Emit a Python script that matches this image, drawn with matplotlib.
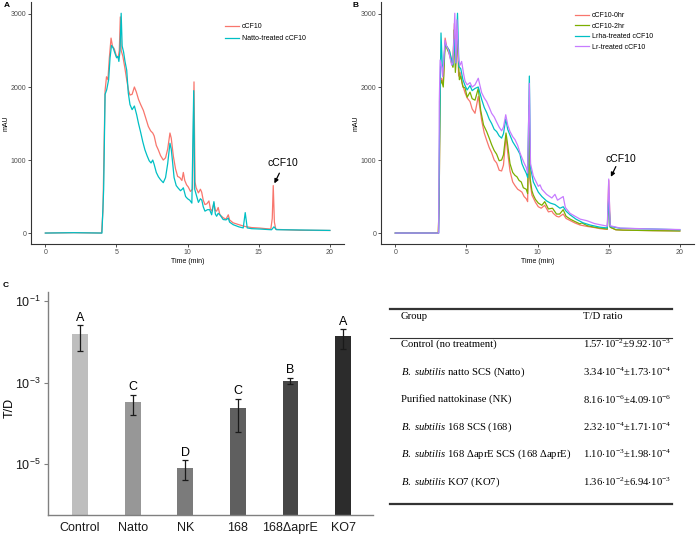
import numpy as np
import matplotlib
matplotlib.use("Agg")
import matplotlib.pyplot as plt
from matplotlib.ticker import FixedLocator, NullLocator

# data ===========================================================
# panel A: chromatograms (time in min, absorbance in mAU)
a_t_ccf10 = [0, 2.0, 3.95, 4.05, 4.2, 4.3, 4.4, 4.5, 4.62, 4.72, 4.85, 5.0, 5.12, 5.2, 5.27, 5.33,
             5.45, 5.6, 5.72, 5.85, 5.95, 6.1, 6.26, 6.4, 6.55, 6.7, 6.89, 7.05, 7.24, 7.4, 7.55,
             7.65, 7.8, 7.94, 8.1, 8.29, 8.45, 8.6, 8.76, 8.85, 9.0, 9.15, 9.3, 9.45, 9.6, 9.7,
             9.8, 9.93, 10.05, 10.2, 10.35, 10.45, 10.52, 10.6, 10.76, 10.9, 10.99, 11.1, 11.22,
             11.35, 11.5, 11.6, 11.7, 11.85, 11.95, 12.04, 12.15, 12.27, 12.5, 12.7, 12.86, 12.95,
             13.2, 13.6, 14.03, 14.5, 15.08, 15.5, 15.85, 15.95, 16.02, 16.1, 16.2, 16.96, 17.9, 20]
a_y_ccf10 = [0, 5, 0, 300, 1950, 2140, 2100, 2400, 2670, 2560, 2520, 2420, 2400, 2500, 2960, 2500,
             2420, 2250, 2100, 1950, 1890, 1900, 2000, 1930, 1830, 1760, 1680, 1580, 1460, 1400, 1370,
             1330, 1200, 1140, 1060, 1000, 1030, 1150, 1370, 1300, 1050, 880, 775, 760, 720, 830,
             720, 660, 630, 570, 600, 2070, 700, 620, 550, 600, 560, 450, 390,
             400, 440, 330, 300, 410, 310, 300, 350, 250, 210, 190, 250, 180,
             140, 115, 90, 75, 68, 60, 55, 200, 650, 150, 50, 45, 38, 35]

a_t_natto = [0, 2.0, 3.98, 4.1, 4.2, 4.31, 4.45, 4.55, 4.65, 4.78, 4.9, 5.01, 5.1, 5.17, 5.25, 5.33,
             5.4, 5.5, 5.6, 5.72, 5.83, 5.95, 6.1, 6.26, 6.42, 6.55, 6.7, 6.85, 7.0, 7.15, 7.3,
             7.43, 7.55, 7.65, 7.8, 7.95, 8.1, 8.29, 8.45, 8.6, 8.76, 8.85, 8.93, 9.05, 9.2, 9.34,
             9.5, 9.62, 9.7, 9.86, 10.0, 10.15, 10.3, 10.43, 10.5, 10.6, 10.76, 10.9, 11.0, 11.1,
             11.22, 11.4, 11.55, 11.69, 11.85, 11.95, 12.04, 12.15, 12.27, 12.5, 12.7, 12.86, 12.95,
             13.2, 13.6, 13.91, 14.05, 14.19, 14.5, 15.08, 15.9, 16.07, 16.25, 17.9, 20]
a_y_natto = [0, 5, 0, 600, 1900, 1960, 2100, 2400, 2570, 2530, 2460, 2400, 2420, 2350, 2500, 3010,
             2560, 2480, 2350, 2230, 1920, 1760, 1690, 1740, 1620, 1500, 1380, 1250, 1140, 1060, 990,
             960, 1000, 940, 830, 770, 730, 690, 760, 950, 1230, 1150, 1000, 760, 650, 615,
             580, 600, 620, 500, 470, 450, 410, 1950, 600, 530, 420, 470, 450, 360,
             300, 320, 320, 250, 430, 260, 230, 270, 250, 185, 180, 205, 150,
             115, 85, 70, 280, 70, 60, 55, 45, 85, 46, 42, 36]

# panel B: chromatograms
b_t_0hr = [0, 3.02, 3.08, 3.15, 3.25, 3.37, 3.5, 3.6, 3.8, 3.95, 4.05, 4.15, 4.25, 4.35, 4.45, 4.55,
           4.7, 4.9, 5.05, 5.25, 5.4, 5.6, 5.83, 6.07, 6.25, 6.42, 6.6, 6.77, 6.95, 7.12, 7.3,
           7.47, 7.6, 7.78, 7.9, 8.06, 8.25, 8.41, 8.6, 8.76, 8.9, 9.05, 9.2, 9.3, 9.4, 9.47,
           9.6, 9.7, 9.85, 10.05, 10.25, 10.5, 10.76, 11.0, 11.1, 11.33, 11.5, 11.8, 12.0, 12.3,
           12.6, 12.98, 13.5, 14.0, 14.39, 14.9, 15.0, 15.1, 15.5, 16, 18.1, 20]
b_y_0hr = [0, 0, 400, 2050, 2120, 2050, 2670, 2560, 2500, 2350, 2280, 2870, 2330, 2740, 2150, 2200,
           2050, 1920, 1850, 1800, 1700, 1640, 1870, 1540, 1370, 1270, 1170, 1100, 1000, 960, 860,
           850, 930, 1330, 1100, 850, 700, 650, 600, 580, 560, 500, 470, 430, 1750, 700,
           520, 480, 420, 360, 340, 380, 290, 300, 270, 230, 220, 260, 200, 170,
           140, 110, 90, 75, 60, 50, 720, 80, 45, 40, 33, 30]

b_t_2hr = [0, 3.02, 3.08, 3.15, 3.25, 3.37, 3.5, 3.6, 3.8, 3.95, 4.05, 4.12, 4.22, 4.38, 4.5, 4.6,
           4.75, 4.9, 5.05, 5.25, 5.4, 5.6, 5.83, 6.0, 6.2, 6.42, 6.6, 6.77, 6.95, 7.12, 7.3,
           7.47, 7.6, 7.78, 7.9, 8.06, 8.25, 8.41, 8.55, 8.7, 8.85, 9.0, 9.2, 9.3, 9.4, 9.47,
           9.6, 9.7, 9.85, 10.05, 10.3, 10.5, 10.76, 11.05, 11.33, 11.55, 11.8, 12.0, 12.3,
           12.6, 12.98, 13.1, 13.5, 14.0, 14.39, 14.9, 15.0, 15.1, 15.5, 16, 18.1, 20]
b_y_2hr = [0, 0, 400, 2020, 2090, 2000, 2600, 2540, 2450, 2330, 2270, 2780, 2200, 2650, 2100, 2150,
           2000, 1990, 1860, 1930, 1840, 1820, 1980, 1680, 1480, 1390, 1300, 1210, 1130, 1080, 990,
           1000, 1070, 1370, 1200, 950, 830, 790, 770, 720, 700, 620, 600, 540, 1450, 750,
           580, 520, 460, 410, 380, 430, 330, 340, 260, 260, 320, 230, 190,
           160, 125, 140, 100, 80, 68, 55, 460, 80, 45, 40, 33, 28]

b_t_lrha = [0, 3.05, 3.1, 3.21, 3.3, 3.37, 3.5, 3.6, 3.8, 3.95, 4.05, 4.15, 4.25, 4.37, 4.47, 4.6,
            4.75, 4.9, 5.05, 5.25, 5.4, 5.6, 5.83, 6.07, 6.25, 6.42, 6.6, 6.77, 6.95, 7.12, 7.3,
            7.47, 7.6, 7.76, 7.9, 8.06, 8.25, 8.41, 8.6, 8.76, 8.9, 9.05, 9.2, 9.3, 9.42, 9.5,
            9.7, 9.85, 10.05, 10.3, 10.63, 10.9, 11.22, 11.57, 11.8, 12.0, 12.28, 12.7, 13.2,
            13.69, 14.39, 14.9, 15.0, 15.1, 15.8, 18.14, 20]
b_y_lrha = [0, 0, 1200, 2740, 2300, 2250, 2600, 2560, 2500, 2380, 2300, 2650, 2330, 3010, 2280, 2250,
            2100, 2020, 1960, 2020, 1950, 1980, 2000, 1830, 1720, 1650, 1560, 1500, 1420, 1390, 1330,
            1300, 1360, 1560, 1420, 1340, 1250, 1200, 1140, 1080, 950, 880, 820, 760, 2150, 900,
            700, 640, 560, 500, 440, 410, 390, 340, 360, 300, 250, 190, 140,
            110, 80, 70, 500, 90, 65, 55, 45]

b_t_lr = [0, 3.05, 3.09, 3.15, 3.25, 3.33, 3.49, 3.6, 3.72, 3.96, 4.05, 4.18, 4.26, 4.33, 4.45, 4.55,
          4.66, 4.8, 4.9, 5.05, 5.25, 5.4, 5.6, 5.83, 6.07, 6.25, 6.42, 6.6, 6.77, 6.95, 7.12,
          7.3, 7.47, 7.6, 7.76, 7.9, 8.06, 8.25, 8.41, 8.6, 8.76, 8.9, 9.05, 9.2, 9.3, 9.42,
          9.5, 9.7, 9.85, 10.05, 10.17, 10.3, 10.63, 11.0, 11.22, 11.4, 11.8, 11.95, 12.28, 12.63,
          13.0, 13.45, 14.0, 14.39, 14.9, 15.0, 15.1, 15.8, 18.1, 20]
b_y_lr = [0, 0, 1800, 2370, 2280, 2140, 2640, 2560, 2510, 2300, 2330, 3010, 2330, 2920, 2370, 2300,
          2350, 2180, 2080, 2030, 2060, 2000, 2030, 2120, 1920, 1850, 1800, 1720, 1640, 1590, 1520,
          1450, 1400, 1450, 1620, 1480, 1390, 1320, 1280, 1200, 1100, 1030, 960, 900, 820, 2050,
          950, 780, 720, 640, 660, 600, 530, 480, 530, 450, 500, 350, 270, 230,
          190, 170, 130, 114, 95, 740, 100, 68, 55, 48]

# panel C: T/D ratio per group
groups = ["Control", "Natto", "NK", "168", "168\u0394aprE", "KO7"]
td_mean = [1.57e-2, 3.34e-4, 8.16e-6, 2.32e-4, 1.10e-3, 1.36e-2]
td_sd = [9.92e-3, 1.73e-4, 4.09e-6, 1.71e-4, 1.98e-4, 6.94e-3]
sig_letters = ["A", "C", "D", "C", "B", "A"]
BSUB = r"$\mathit{B.\ subtilis}$"
table_groups = [
    "Control (no treatment)",
    BSUB + " natto SCS (Natto)",
    "Purified nattokinase (NK)",
    BSUB + " 168 SCS (168)",
    BSUB + " 168 \u0394aprE SCS (168 \u0394aprE)",
    BSUB + " KO7 (KO7)",
]
# ================================================================

# style ==========================================================
GG_RED = "#F8766D"
GG_GREEN = "#7CAE00"
GG_CYAN = "#00BFC4"
GG_PURPLE = "#C77CFF"
BAR_GREYS = ["#bebebe", "#979797", "#7b7b7b", "#5f5f5f", "#464646", "#2c2c2c"]

plt.rcParams["font.family"] = ["Liberation Sans", "DejaVu Sans"]
plt.rcParams["mathtext.fontset"] = "custom"
plt.rcParams["mathtext.rm"] = "Liberation Serif"
plt.rcParams["mathtext.it"] = "Liberation Serif:italic"
plt.rcParams["mathtext.bf"] = "Liberation Serif:bold"
# ================================================================

W, H = 696, 535
ARROW = dict(arrowstyle="-|>", color="black", lw=0.9, mutation_scale=6, shrinkA=0, shrinkB=0)


def px_axes(fig, left, top, right, bottom):
    # axes placed by pixel edges
    return fig.add_axes([left / W, 1 - bottom / H, (right - left) / W, (bottom - top) / H])


def style_chrom(ax):
    ax.set_xlim(-1, 21)
    ax.set_ylim(-150, 3160)
    ax.set_xticks([0, 5, 10, 15, 20])
    ax.set_yticks([0, 1000, 2000, 3000])
    for side in ["top", "right"]:
        ax.spines[side].set_visible(False)
    for side in ["left", "bottom"]:
        ax.spines[side].set_color("#333333")
        ax.spines[side].set_linewidth(0.8)
    ax.tick_params(length=2, width=0.6, color="#333333", labelsize=5, labelcolor="#4d4d4d", pad=1.5)
    ax.set_xlabel("Time (min)", fontsize=5, labelpad=1.5)
    ax.set_ylabel("mAU", fontsize=5)
    ax.yaxis.set_label_coords(-0.07, 0.5)


def sci(v):
    e = int(np.floor(np.log10(v)))
    m = v / 10 ** e
    return f"{m:.2f}" + r"$\mathregular{\cdot 10^{" + str(e) + r"}}$"


fig = plt.figure(figsize=(W / 100, H / 100), dpi=100)

# panel A ========================================================
ax_a = px_axes(fig, 31.1, 2.3, 344.1, 244)
ax_a.plot(a_t_ccf10, a_y_ccf10, color=GG_RED, lw=0.9, label="cCF10")
ax_a.plot(a_t_natto, a_y_natto, color=GG_CYAN, lw=0.9, label="Natto-treated cCF10")
style_chrom(ax_a)
ax_a.legend(loc="upper left", bbox_to_anchor=(0.61, 0.925), frameon=False, fontsize=5,
            handlelength=2.0, handletextpad=0.45, labelspacing=0.75, borderaxespad=0)
ax_a.annotate("", xy=(16.1, 680), xytext=(16.45, 820), arrowprops=ARROW)
ax_a.text(16.7, 960, "cCF10", fontsize=7.5, ha="center", va="center")

# panel B ========================================================
ax_b = px_axes(fig, 381.1, 2.3, 694.1, 244)
ax_b.plot(b_t_0hr, b_y_0hr, color=GG_RED, lw=0.9, label="cCF10-0hr")
ax_b.plot(b_t_2hr, b_y_2hr, color=GG_GREEN, lw=0.9, label="cCF10-2hr")
ax_b.plot(b_t_lrha, b_y_lrha, color=GG_CYAN, lw=0.9, label="Lrha-treated cCF10")
ax_b.plot(b_t_lr, b_y_lr, color=GG_PURPLE, lw=0.9, label="Lr-treated cCF10")
style_chrom(ax_b)
ax_b.legend(loc="upper left", bbox_to_anchor=(0.61, 0.97), frameon=False, fontsize=5,
            handlelength=2.0, handletextpad=0.45, labelspacing=0.5, borderaxespad=0)
ax_b.annotate("", xy=(15.15, 770), xytext=(15.5, 910), arrowprops=ARROW)
ax_b.text(15.84, 1010, "cCF10", fontsize=7.5, ha="center", va="center")

# panel C ========================================================
ax_c = px_axes(fig, 48, 292, 373, 515)
ax_c.set_yscale("log")
ax_c.set_ylim(10 ** -6.25, 10 ** -0.78)
ax_c.set_xlim(-0.61, 5.57)
x = np.arange(len(groups))
ax_c.bar(x, td_mean, width=0.3, color=BAR_GREYS)
ax_c.errorbar(x, td_mean, yerr=td_sd, fmt="none", ecolor="#1a1a1a", elinewidth=0.9,
              capsize=2.5, capthick=0.9)
for i, letter in enumerate(sig_letters):
    ax_c.annotate(letter, (x[i], td_mean[i] + td_sd[i]), xytext=(0, 1), textcoords="offset points",
                  ha="center", va="bottom", fontsize=9)
ax_c.yaxis.set_major_locator(FixedLocator([1e-5, 1e-3, 1e-1]))
ax_c.yaxis.set_minor_locator(NullLocator())
ax_c.set_yticklabels([r"$\mathregular{10^{-5}}$", r"$\mathregular{10^{-3}}$", r"$\mathregular{10^{-1}}$"])
ax_c.set_xticks(x)
ax_c.set_xticklabels(groups)
for side in ["top", "right"]:
    ax_c.spines[side].set_visible(False)
for side in ["left", "bottom"]:
    ax_c.spines[side].set_color("#808080")
    ax_c.spines[side].set_linewidth(1.0)
ax_c.tick_params(axis="y", length=3, width=0.8, color="#808080", labelsize=9, labelcolor="#1a1a1a", pad=2)
ax_c.tick_params(axis="x", length=0, labelsize=9, labelcolor="#1a1a1a", pad=5)
ax_c.set_ylabel("T/D", fontsize=9)
ax_c.yaxis.set_label_coords(-0.1, 0.48)

# table ==========================================================
ax_t = px_axes(fig, 390, 309, 672, 504)
ax_t.set_xlim(0, 282)
ax_t.set_ylim(195, 0)
ax_t.axis("off")
ax_t.axhline(0, color="#333333", lw=1.6, clip_on=False)
ax_t.axhline(28.7, color="#333333", lw=0.8, clip_on=False)
ax_t.axhline(195, color="#333333", lw=1.6, clip_on=False)
ax_t.text(10.7, 7.5, "Group", family="Liberation Serif", fontsize=7.7, va="center")
ax_t.text(192.7, 7.5, "T/D ratio", family="Liberation Serif", fontsize=7.7, va="center")
for i, name in enumerate(table_groups):
    yy = 35.3 + 27.5 * i
    ax_t.text(10.7, yy, name, family="Liberation Serif", fontsize=7.7, va="center")
    ax_t.text(192.7, yy, sci(td_mean[i]) + "\u00b1" + sci(td_sd[i]),
              family="Liberation Serif", fontsize=7.7, va="center")

# panel labels
fig.text(4 / W, 1 - 2 / H, "A", fontsize=6, weight="bold", va="top")
fig.text(352 / W, 1 - 2 / H, "B", fontsize=6, weight="bold", va="top")
fig.text(3 / W, 1 - 282 / H, "C", fontsize=6, weight="bold", va="top")

fig.savefig("out.png", dpi=100)
